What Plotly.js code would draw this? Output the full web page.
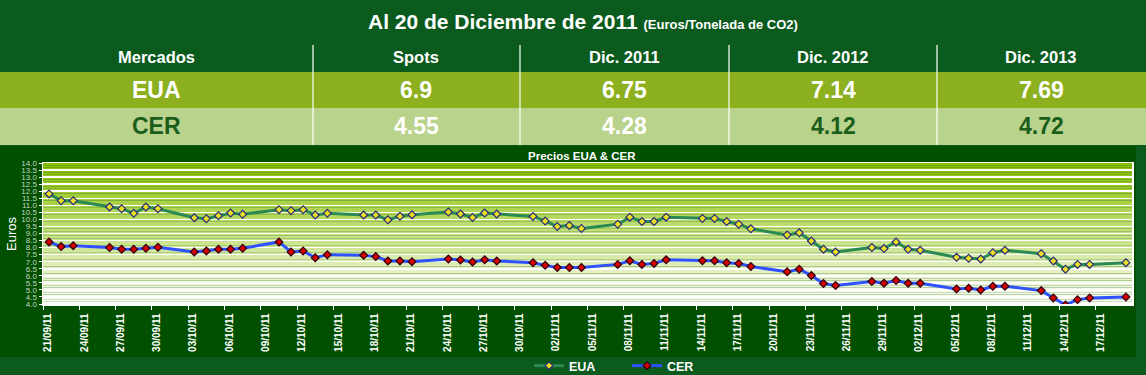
<!DOCTYPE html>
<html><head><meta charset="utf-8">
<script src="https://cdn.plot.ly/plotly-3.0.1.min.js"></script>
<style>html,body{margin:0;padding:0;background:#0b5a1e;overflow:hidden}#chart{width:1146px;height:375px}</style>
</head><body><div id="chart"></div>
<script>
const dates = [
 '2011-09-21','2011-09-22','2011-09-23','2011-09-26','2011-09-27','2011-09-28','2011-09-29','2011-09-30',
 '2011-10-03','2011-10-04','2011-10-05','2011-10-06','2011-10-07','2011-10-10','2011-10-11','2011-10-12','2011-10-13','2011-10-14',
 '2011-10-17','2011-10-18','2011-10-19','2011-10-20','2011-10-21','2011-10-24','2011-10-25','2011-10-26','2011-10-27','2011-10-28','2011-10-31',
 '2011-11-01','2011-11-02','2011-11-03','2011-11-04','2011-11-07','2011-11-08','2011-11-09','2011-11-10','2011-11-11',
 '2011-11-14','2011-11-15','2011-11-16','2011-11-17','2011-11-18','2011-11-21','2011-11-22','2011-11-23','2011-11-24','2011-11-25',
 '2011-11-28','2011-11-29','2011-11-30',
 '2011-12-01','2011-12-02','2011-12-05','2011-12-06','2011-12-07','2011-12-08','2011-12-09','2011-12-12','2011-12-13','2011-12-14','2011-12-15','2011-12-16','2011-12-19'
];
const eua = [
 11.81,11.33,11.33,10.88,10.76,10.43,10.88,10.76,
 10.12,10.05,10.26,10.45,10.36,10.69,10.62,10.69,10.31,10.43,
 10.31,10.31,9.97,10.22,10.33,10.52,10.38,10.14,10.45,10.38,10.21,
 9.88,9.50,9.57,9.36,9.66,10.16,9.85,9.85,10.16,
 10.07,10.07,9.85,9.66,9.33,8.90,9.05,8.47,7.88,7.69,
 8.00,7.93,8.40,
 7.88,7.81,7.31,7.24,7.19,7.64,7.81,7.57,7.05,6.47,6.81,6.81,6.93
];
const cer = [
 8.40,8.07,8.14,8.00,7.88,7.88,7.95,8.02,
 7.69,7.76,7.88,7.88,7.95,8.40,7.69,7.76,7.28,7.50,
 7.45,7.36,7.05,7.05,7.00,7.19,7.12,6.98,7.14,7.05,6.93,
 6.74,6.59,6.59,6.59,6.81,7.07,6.81,6.88,7.14,
 7.07,7.07,6.93,6.88,6.66,6.28,6.47,6.02,5.45,5.31,
 5.59,5.47,5.66,
 5.47,5.47,5.07,5.12,5.00,5.26,5.26,4.95,4.43,3.93,4.31,4.43,4.50
];
const xTickDates = ['2011-09-21','2011-09-24','2011-09-27','2011-09-30','2011-10-03','2011-10-06','2011-10-09','2011-10-12','2011-10-15','2011-10-18',
 '2011-10-21','2011-10-24','2011-10-27','2011-10-30','2011-11-02','2011-11-05','2011-11-08','2011-11-11','2011-11-14','2011-11-17',
 '2011-11-20','2011-11-23','2011-11-26','2011-11-29','2011-12-02','2011-12-05','2011-12-08','2011-12-11','2011-12-14','2011-12-17'];
const xTickLabels = ['21/09/11','24/09/11','27/09/11','30/09/11','03/10/11','06/10/11','09/10/11','12/10/11','15/10/11','18/10/11',
 '21/10/11','24/10/11','27/10/11','30/10/11','02/11/11','05/11/11','08/11/11','11/11/11','14/11/11','17/11/11',
 '20/11/11','23/11/11','26/11/11','29/11/11','02/12/11','05/12/11','08/12/11','11/12/11','14/12/11','17/12/11'];
const seriesNames = ['EUA','CER'];
const tableTitle = 'Al 20 de Diciembre de 2011';
const tableSubtitle = '(Euros/Tonelada de CO2)';
const tableHeaders = ['Mercados','Spots','Dic. 2011','Dic. 2012','Dic. 2013'];
const euaRow = ['EUA','6.9','6.75','7.14','7.69'];
const cerRow = ['CER','4.55','4.28','4.12','4.72'];
const chartTitle = 'Precios EUA & CER';
const yTitle = 'Euros';
const yMin = 4, yMax = 14, yStep = 0.5;
const axisStart = '2011-09-21', axisEnd = '2011-12-20';

(function () {
const W = 1146, H = 375;
const L = 43, R = 14, T = 163, B = 71;
const PW = W - L - R, PH = H - T - B;
const px = v => (v - L) / PW;
const py = v => (H - B - v) / PH;
const HALF = 12 * 3600 * 1000;
const ms = d => Date.parse(d + 'T00:00:00Z');
const FONT = '"Liberation Sans", Arial, sans-serif';

const shapes = [];
const annotations = [];
const note = (x, y, text, font, extra) => annotations.push(Object.assign({xref:'paper', yref:'paper', x:px(x), y:py(y),
  xanchor:'center', yanchor:'middle', showarrow:false, text:text, font:font}, extra || {}));

shapes.push({type:'rect', xref:'paper', yref:'paper', x0:px(0), x1:px(1136), y0:py(357), y1:py(146), fillcolor:'#005000', line:{width:0}, layer:'below'});
shapes.push({type:'rect', xref:'paper', yref:'paper', x0:px(0), x1:px(W), y0:py(72), y1:py(0), fillcolor:'#0b5a1e', line:{width:0}, layer:'below'});
shapes.push({type:'rect', xref:'paper', yref:'paper', x0:px(0), x1:px(W), y0:py(108), y1:py(72), fillcolor:'#8cb01e', line:{width:0}, layer:'below'});
shapes.push({type:'rect', xref:'paper', yref:'paper', x0:px(0), x1:px(W), y0:py(145), y1:py(108), fillcolor:'#b9d28c', line:{width:0}, layer:'below'});
[313, 520, 729, 937].forEach(x => {
  shapes.push({type:'line', xref:'paper', yref:'paper', x0:px(x), x1:px(x), y0:py(145), y1:py(45), line:{color:'#ffffff', width:1.2}});
});
const nStrips = 60;
const cTop = [138, 191, 4], cBot = [255, 255, 250];
for (let i = 0; i < nStrips; i++) {
  const f = (i + 0.5) / nStrips;
  const c = cBot.map((b, k) => Math.round(b + (cTop[k] - b) * f));
  shapes.push({type:'rect', xref:'paper', yref:'y', x0:0, x1:1,
    y0: yMin + (yMax - yMin) * i / nStrips, y1: yMin + (yMax - yMin) * (i + 1) / nStrips,
    fillcolor:`rgb(${c[0]},${c[1]},${c[2]})`, line:{width:0}, layer:'below'});
}

note(583, 21, `<b>${tableTitle}</b> <b><span style="font-size:13px">${tableSubtitle}</span></b>`, {family:FONT, size:21, color:'#ffffff'});
const colCenters = [156, 416, 624, 833, 1041];
tableHeaders.forEach((t, i) => note(colCenters[i], 57, `<b>${t}</b>`, {family:FONT, size:16.5, color:'#ffffff'}));
euaRow.forEach((t, i) => note(colCenters[i], 90, `<b>${t}</b>`, {family:FONT, size:23, color:'#ffffff'}));
const cerColors = ['#1b5e1b', '#ffffff', '#ffffff', '#1b5e1b', '#1b5e1b'];
cerRow.forEach((t, i) => note(colCenters[i], 126, `<b>${t}</b>`, {family:FONT, size:23, color:cerColors[i]}));
note(582, 156, `<b>${chartTitle}</b>`, {family:FONT, size:11.5, color:'#ffffff'});
note(11, 234, yTitle, {family:FONT, size:13, color:'#ffffff'}, {textangle:-90});

const traces = [
  {x:dates, y:eua, name:seriesNames[0], type:'scatter', mode:'lines+markers',
   line:{color:'#2a8a52', width:3},
   marker:{symbol:'diamond', size:6, color:'#e8e020', line:{color:'#2a2a7a', width:1.2}}},
  {x:dates, y:cer, name:seriesNames[1], type:'scatter', mode:'lines+markers',
   line:{color:'#2e52ff', width:3},
   marker:{symbol:'diamond', size:6, color:'#d40000', line:{color:'#300010', width:1.2}}}
];

const layout = {
  width:W, height:H,
  margin:{l:L, r:R, t:T, b:B, pad:0, autoexpand:false},
  paper_bgcolor:'#0b5a1e', plot_bgcolor:'rgba(0,0,0,0)',
  showlegend:true,
  legend:{orientation:'h', x:px(529), y:py(366), xanchor:'left', yanchor:'middle',
    entrywidth:53, entrywidthmode:'pixels', bgcolor:'rgba(0,0,0,0)',
    font:{family:FONT, size:12.5, color:'#ffffff', weight:'bold'}},
  xaxis:{type:'date', range:[ms(axisStart) - HALF, ms(axisEnd) - HALF], automargin:false,
    tickmode:'array', tickvals:xTickDates.map(d => ms(d) - HALF), ticktext:xTickLabels,
    tickangle:-90, ticklabelshift:5, ticks:'outside', ticklen:4, tickcolor:'#ffffff', tickwidth:1,
    tickfont:{family:FONT, size:10, color:'#ffffff', weight:'bold'},
    showgrid:false, zeroline:false, showline:true, linecolor:'#ffffff', linewidth:1.5, mirror:true, fixedrange:true},
  yaxis:{range:[yMin, yMax], dtick:yStep, tick0:yMin, tickformat:'.1f', automargin:false,
    ticks:'outside', ticklen:3, tickcolor:'#ffffff', tickwidth:1,
    tickfont:{family:FONT, size:8, color:'#c8d4c8'},
    showgrid:true, gridcolor:'#ffffff', gridwidth:1.5, zeroline:false,
    showline:true, linecolor:'#ffffff', linewidth:1.5, mirror:true, fixedrange:true},
  shapes:shapes, annotations:annotations
};
Plotly.newPlot('chart', traces, layout, {displayModeBar:false, staticPlot:true});
})();
</script></body></html>
